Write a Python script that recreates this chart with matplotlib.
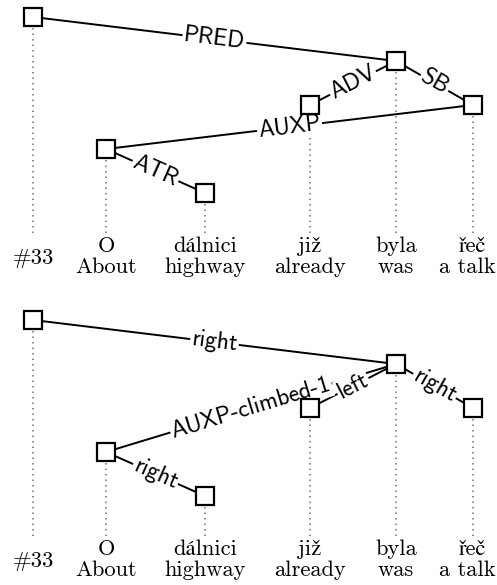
import math

import matplotlib.pyplot as plt

# sentence #33 with english glosses
tokens = ["#33", "O", "dálnici", "již", "byla", "řeč"]
glosses = ["", "About", "highway", "already", "was", "a talk"]

# original analysis (top) and projected one (bottom): head index per token
top_heads = [None, 5, 1, 4, 0, 4]
top_rels = [None, "AUXP", "ATR", "ADV", "PRED", "SB"]
bottom_heads = [None, 4, 1, 4, 0, 4]
bottom_rels = [None, "AUXP-climbed-1", "right", "left", "right", "right"]

# layout (pixels)
col_x = [33, 106, 205, 310, 396, 473]
panel_top = [17, 320]
level_step = 44
right_edge = 496

WORD_FONT = ["cmr10", "STIXGeneral"]
EDGE_FONT = ["cmss10", "DejaVu Sans"]
WORD_SIZE = 16.2


def depths(heads):
    out = []
    for i in range(len(heads)):
        d, h = 0, heads[i]
        while h is not None:
            d += 1
            h = heads[h]
        out.append(d)
    return out


def word(ax, x, y, s):
    t = ax.text(x, y, s, family=WORD_FONT, fontsize=WORD_SIZE, ha="center", va="center")
    # keep words inside the canvas, like the original which is cropped tight
    r = ax.figure.canvas.get_renderer()
    bb = t.get_window_extent(r)
    if bb.x1 > right_edge:
        t.set_x(x - (bb.x1 - right_edge))


def draw_tree(ax, heads, rels, levels, y0):
    ys = [y0 + lv * level_step for lv in levels]

    # dotted guides from node to word
    for x, y in zip(col_x, ys):
        ax.plot([x, x], [y, y0 + 220], color="#707070", lw=1.1,
                linestyle=(0, (1, 2.6)), zorder=1)

    # edges with labels
    for i, (h, rel) in enumerate(zip(heads, rels)):
        if h is None:
            continue
        x1, y1, x2, y2 = col_x[h], ys[h], col_x[i], ys[i]
        ax.plot([x1, x2], [y1, y2], color="black", lw=1.4, zorder=2,
                solid_capstyle="butt")
        if x2 < x1:
            x1, y1, x2, y2 = x2, y2, x1, y1
        ang = -math.degrees(math.atan2(y2 - y1, x2 - x1))
        ax.text((x1 + x2) / 2, (y1 + y2) / 2, rel, family=EDGE_FONT,
                fontsize=17, rotation=ang, rotation_mode="anchor",
                ha="center", va="center", zorder=3,
                bbox=dict(fc="white", ec="none", pad=1.0))

    # nodes
    ax.plot(col_x, ys, linestyle="none", marker="s", markersize=12.3,
            mfc="white", mec="black", mew=1.6, zorder=4)

    # words and glosses
    ax.text(col_x[0], y0 + 241, tokens[0], family=WORD_FONT, fontsize=WORD_SIZE,
            ha="center", va="center")
    for x, w, g in zip(col_x[1:], tokens[1:], glosses[1:]):
        word(ax, x, y0 + 229, w)
        word(ax, x, y0 + 250, g)


fig = plt.figure(figsize=(4.97, 5.85), dpi=100)
ax = fig.add_axes([0, 0, 1, 1])
ax.set_xlim(0, 497)
ax.set_ylim(585, 0)
ax.axis("off")

levels = depths(top_heads)
draw_tree(ax, top_heads, top_rels, levels, panel_top[0])
draw_tree(ax, bottom_heads, bottom_rels, levels, panel_top[1])

fig.savefig("out.png", dpi=100)
